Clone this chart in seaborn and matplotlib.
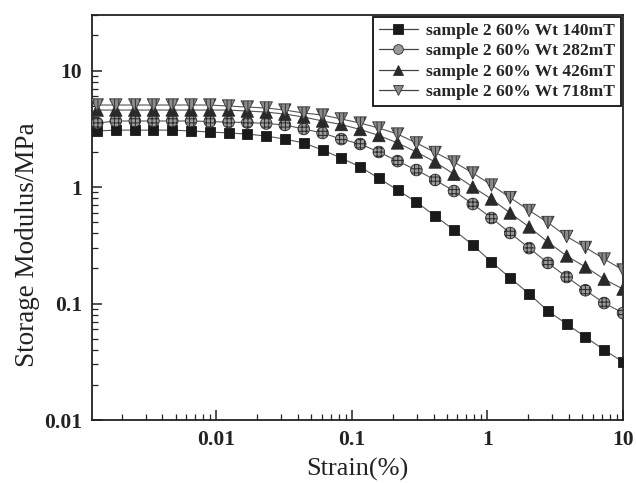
import numpy as np
import pandas as pd
import matplotlib
matplotlib.use("Agg")
import matplotlib.pyplot as plt
from matplotlib.lines import Line2D
import seaborn as sns

# ---------------- data ----------------
strain = [0.00132, 0.00181, 0.00250, 0.00343, 0.00472, 0.00650, 0.00894, 0.0123,
          0.0169, 0.0233, 0.0320, 0.0441, 0.0607, 0.0835, 0.115, 0.158, 0.217,
          0.299, 0.411, 0.566, 0.779, 1.07, 1.47, 2.03, 2.79, 3.84, 5.28, 7.26, 10.0]

g_140 = [3.03, 3.08, 3.08, 3.08, 3.08, 3.03, 2.97, 2.91, 2.85, 2.74, 2.58, 2.39,
         2.08, 1.77, 1.49, 1.19, 0.942, 0.743, 0.564, 0.428, 0.318, 0.227, 0.166,
         0.121, 0.0863, 0.0667, 0.0516, 0.0399, 0.0315]
g_282 = [3.54, 3.69, 3.69, 3.69, 3.69, 3.69, 3.65, 3.61, 3.58, 3.51, 3.41, 3.15,
         2.91, 2.58, 2.34, 2.00, 1.67, 1.40, 1.15, 0.924, 0.715, 0.542, 0.403,
         0.299, 0.223, 0.169, 0.130, 0.101, 0.0829]
g_426 = [4.58, 4.58, 4.58, 4.58, 4.58, 4.58, 4.58, 4.58, 4.49, 4.40, 4.23, 3.99,
         3.69, 3.44, 3.12, 2.77, 2.39, 2.00, 1.64, 1.29, 1.00, 0.789, 0.598,
         0.454, 0.337, 0.256, 0.206, 0.162, 0.133]
g_718 = [5.06, 5.06, 5.06, 5.06, 5.06, 5.06, 5.06, 4.96, 4.86, 4.77, 4.58, 4.32,
         4.15, 3.84, 3.54, 3.21, 2.85, 2.39, 1.98, 1.64, 1.32, 1.04, 0.812,
         0.629, 0.496, 0.376, 0.303, 0.241, 0.194]

labels = ["sample 2 60% Wt 140mT", "sample 2 60% Wt 282mT",
          "sample 2 60% Wt 426mT", "sample 2 60% Wt 718mT"]
series = [g_140, g_282, g_426, g_718]

x_ticks = [0.01, 0.1, 1, 10]
x_ticklabels = ["0.01", "0.1", "1", "10"]
y_ticks = [0.01, 0.1, 1, 10]
y_ticklabels = ["0.01", "0.1", "1", "10"]

# ---------------- style ----------------
sns.set_style("ticks")
plt.rcParams["font.family"] = ["Liberation Serif", "DejaVu Serif"]
plt.rcParams["hatch.linewidth"] = 0.7

styles = [
    dict(marker="s", face="#1a1a1a", edge="#1a1a1a", hatch=None, s=60),
    dict(marker="o", face="#9a9a9a", edge="#2a2a2a", hatch="++++", s=70),
    dict(marker="^", face="#2a2a2a", edge="#2a2a2a", hatch="xxx", s=80),
    dict(marker="v", face="#8a8a8a", edge="#333333", hatch="||||", s=80),
]

df = pd.DataFrame({
    "strain": np.tile(strain, len(series)),
    "G": np.concatenate([np.asarray(s) for s in series]),
    "sample": np.repeat(labels, len(strain)),
})

fig = plt.figure(figsize=(6.36, 4.83), dpi=100)
ax = fig.add_axes([0.144, 0.1304, 0.8356, 0.8386])

for lab, st in zip(labels, styles):
    sub = df[df["sample"] == lab]
    sns.lineplot(data=sub, x="strain", y="G", ax=ax, color="#555555",
                 linewidth=0.8, legend=False, zorder=2)
for lab, st in zip(labels, styles):
    sub = df[df["sample"] == lab]
    kw = dict(hatch=st["hatch"]) if st["hatch"] else {}
    sns.scatterplot(data=sub, x="strain", y="G", ax=ax, marker=st["marker"],
                    s=st["s"], color=st["face"], edgecolor=st["edge"],
                    linewidth=0.6, legend=False, zorder=3, **kw)

ax.set_xscale("log")
ax.set_yscale("log")
ax.set_xlim(0.0012, 10)
ax.set_ylim(0.01, 30)

ax.set_xticks(x_ticks)
ax.set_xticklabels(x_ticklabels)
ax.set_yticks(y_ticks)
ax.set_yticklabels(y_ticklabels)

for sp in ax.spines.values():
    sp.set_visible(True)
    sp.set_linewidth(1.3)
    sp.set_color("#222222")

ax.tick_params(which="major", direction="in", length=7, width=1.1,
               labelsize=15.5, pad=7, colors="#222222")
ax.tick_params(which="minor", direction="in", length=4, width=0.9,
               colors="#222222")
for t in ax.get_xticklabels() + ax.get_yticklabels():
    t.set_fontweight("bold")

ax.set_xlabel("Strain(%)", fontsize=19, labelpad=6, color="#222222")
ax.set_ylabel("Storage Modulus/MPa", fontsize=19.5, color="#222222")
ax.yaxis.set_label_coords(-0.098, 0.432)

handles = []
for st in styles:
    handles.append(Line2D([], [], color="#444444", lw=0.9, marker=st["marker"],
                          markersize=7, markerfacecolor=st["face"],
                          markeredgecolor=st["edge"], markeredgewidth=0.6))
leg = ax.legend(handles, labels, loc="upper right", frameon=True,
                fancybox=False, edgecolor="#111111", framealpha=1,
                prop={"family": "Liberation Serif", "weight": "bold", "size": 12.5},
                handlelength=2.2, handletextpad=0.5, borderaxespad=0.1,
                labelspacing=0.25, borderpad=0.35)
leg.get_frame().set_linewidth(1.3)

fig.savefig("out.png", dpi=100)
